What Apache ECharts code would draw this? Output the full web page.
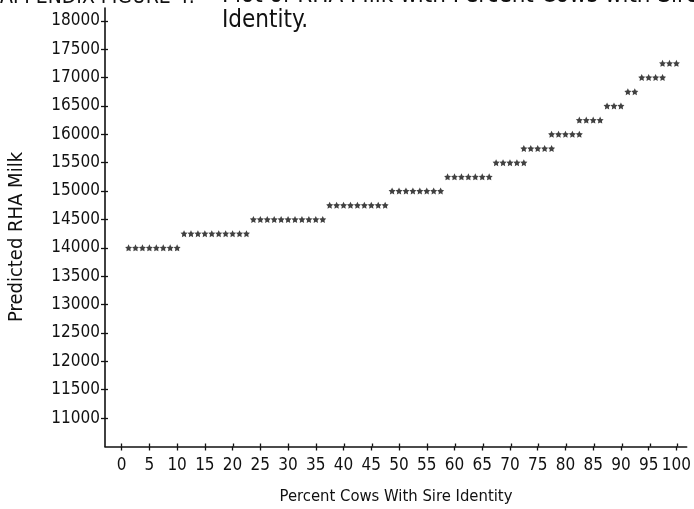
<!DOCTYPE html>
<html>
<head>
<meta charset="utf-8">
<script src="https://cdn.jsdelivr.net/npm/echarts@6/dist/echarts.min.js"></script>
<style>
html,body{margin:0;padding:0;background:#fff;}
#chart{width:694px;height:509px;}
</style>
</head>
<body>
<div id="chart"></div>
<script>
// ---- data ----
const rowValues = [14000, 14250, 14500, 14750, 15000, 15250, 15500, 15750, 16000, 16250, 16500, 16750, 17000, 17250];
const starPercents = [
  [1.25, 2.5, 3.75, 5, 6.25, 7.5, 8.75, 10],
  [11.25, 12.5, 13.75, 15, 16.25, 17.5, 18.75, 20, 21.25, 22.5],
  [23.75, 25, 26.25, 27.5, 28.75, 30, 31.25, 32.5, 33.75, 35, 36.25],
  [37.5, 38.75, 40, 41.25, 42.5, 43.75, 45, 46.25, 47.5],
  [48.75, 50, 51.25, 52.5, 53.75, 55, 56.25, 57.5],
  [58.75, 60, 61.25, 62.5, 63.75, 65, 66.25],
  [67.5, 68.75, 70, 71.25, 72.5],
  [72.5, 73.75, 75, 76.25, 77.5],
  [77.5, 78.75, 80, 81.25, 82.5],
  [82.5, 83.75, 85, 86.25],
  [87.5, 88.75, 90],
  [91.25, 92.5],
  [93.75, 95, 96.25, 97.5],
  [97.5, 98.75, 100]
];
const xTickValues = [0, 5, 10, 15, 20, 25, 30, 35, 40, 45, 50, 55, 60, 65, 70, 75, 80, 85, 90, 95, 100];
const yTickValues = [11000, 11500, 12000, 12500, 13000, 13500, 14000, 14500, 15000, 15500, 16000, 16500, 17000, 17500, 18000];
const titleLead = 'APPENDIX FIGURE 4.';
const titleLine1 = 'Plot of RHA Milk with Percent Cows with Sire';
const titleLine2 = 'Identity.';
const xName = 'Percent Cows With Sire Identity';
const yName = 'Predicted RHA Milk';

// ---- build ----
const points = [];
starPercents.forEach((grp, i) => grp.forEach(p => points.push([p, rowValues[i]])));

const FONT = '"Liberation Sans Narrow", "DejaVu Sans Condensed", "Liberation Sans", sans-serif';
const INK = '#111';
const X_MIN = -3, X_MAX = 101.85, Y_MIN = 10500, Y_MAX = 18225;
const STAR = 'path://M0,-10L2.94,-4.05L9.51,-3.09L4.76,1.55L5.88,8.09L0,5L-5.88,8.09L-4.76,1.55L-9.51,-3.09L-2.94,-4.05Z';
const plain = v => String(v);
const GRID = {left: 105, right: 6, top: 8, bottom: 62.5, containLabel: false};

const chart = echarts.init(document.getElementById('chart'), null, {renderer: 'canvas'});
chart.setOption({
  animation: false,
  backgroundColor: '#fff',
  grid: [Object.assign({}, GRID), Object.assign({}, GRID)],
  xAxis: [
    {
      type: 'value', gridIndex: 0, min: X_MIN, max: X_MAX, position: 'bottom',
      axisLine: {show: true, onZero: false, lineStyle: {color: INK, width: 1.6}},
      axisTick: {show: true, length: 4, customValues: xTickValues, lineStyle: {color: INK, width: 1.3}},
      axisLabel: {show: true, customValues: xTickValues, formatter: plain, margin: 11, color: INK,
        fontFamily: FONT, fontSize: 17, showMaxLabel: true, showMinLabel: true, hideOverlap: false},
      splitLine: {show: false}
    },
    {
      type: 'value', gridIndex: 1, min: X_MIN, max: X_MAX, position: 'bottom',
      axisLine: {show: false, onZero: false},
      axisTick: {show: true, inside: true, length: 3, customValues: xTickValues, lineStyle: {color: INK, width: 1.3}},
      axisLabel: {show: false},
      splitLine: {show: false}
    }
  ],
  yAxis: [
    {
      type: 'value', gridIndex: 0, min: Y_MIN, max: Y_MAX, position: 'left',
      axisLine: {show: true, onZero: false, lineStyle: {color: INK, width: 1.6}},
      axisTick: {show: true, length: 4, customValues: yTickValues, lineStyle: {color: INK, width: 1.3}},
      axisLabel: {show: true, customValues: yTickValues, formatter: plain, margin: 5, color: INK,
        fontFamily: FONT, fontSize: 17, showMaxLabel: true, showMinLabel: true, hideOverlap: false},
      splitLine: {show: false}
    },
    {
      type: 'value', gridIndex: 1, min: Y_MIN, max: Y_MAX, position: 'left',
      axisLine: {show: false, onZero: false},
      axisTick: {show: true, inside: true, length: 3, customValues: yTickValues, lineStyle: {color: INK, width: 1.3}},
      axisLabel: {show: false},
      splitLine: {show: false}
    }
  ],
  series: [{
    type: 'scatter',
    xAxisIndex: 0, yAxisIndex: 0,
    symbol: STAR,
    symbolSize: 7,
    itemStyle: {color: INK},
    data: points
  }],
  graphic: [
    {type: 'text', style: {text: titleLead, x: 0, y: 8, verticalAlign: 'bottom', fill: INK, font: '21px ' + FONT}},
    {type: 'text', style: {text: titleLine1, x: 222, y: 8, verticalAlign: 'bottom', fill: INK, font: '24px ' + FONT}},
    {type: 'text', style: {text: titleLine2, x: 222, y: 21, verticalAlign: 'middle', fill: INK, font: '24px ' + FONT}},
    {type: 'text', style: {text: xName, x: 396, y: 497, align: 'center', verticalAlign: 'middle', fill: INK, font: '16.5px ' + FONT}},
    {type: 'text', rotation: Math.PI / 2, x: 17, y: 237, style: {text: yName, x: 0, y: 0, align: 'center', verticalAlign: 'middle', fill: INK, font: '20px ' + FONT}}
  ]
});
</script>
</body>
</html>
